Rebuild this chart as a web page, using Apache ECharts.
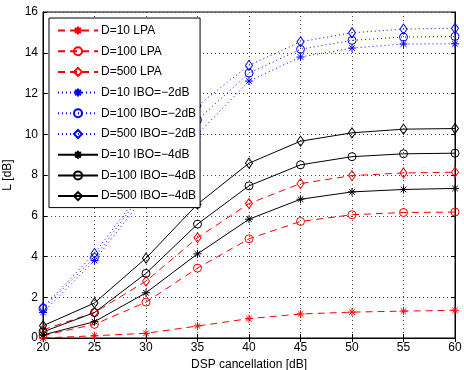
<!DOCTYPE html>
<html>
<head>
<meta charset="utf-8">
<script src="https://cdn.jsdelivr.net/npm/echarts@6/dist/echarts.min.js"></script>
<style>
  html, body { margin: 0; padding: 0; background: #fff; }
  #chart { width: 464px; height: 370px; }
</style>
</head>
<body>
<div id="chart"></div>
<script>
// x values (DSP cancellation, dB)
var dspCancel = [20, 25, 30, 35, 40, 45, 50, 55, 60];

// LPA
var lpaD10 = [0.0, 0.11, 0.23, 0.59, 0.95, 1.18, 1.27, 1.32, 1.36];
var lpaD100 = [0.12, 0.67, 1.76, 3.43, 4.87, 5.72, 6.05, 6.16, 6.18];
var lpaD500 = [0.4, 1.25, 2.79, 4.92, 6.6, 7.58, 7.97, 8.1, 8.14];
// IBO = -2 dB
var ibo2D10 = [1.25, 3.8, 7.04, 10.0, 12.61, 13.79, 14.23, 14.43, 14.44];
var ibo2D100 = [1.45, 3.95, 7.34, 10.7, 13.0, 14.17, 14.61, 14.77, 14.8];
var ibo2D500 = [1.5, 4.15, 7.5, 11.4, 13.38, 14.54, 14.98, 15.16, 15.2];
// IBO = -4 dB
var ibo4D10 = [0.15, 0.8, 2.22, 4.13, 5.83, 6.81, 7.17, 7.29, 7.34];
var ibo4D100 = [0.3, 1.25, 3.17, 5.59, 7.47, 8.5, 8.9, 9.04, 9.07];
var ibo4D500 = [0.6, 1.72, 3.92, 6.57, 8.58, 9.66, 10.07, 10.25, 10.28];

var xTicks = { min: 20, max: 60, interval: 5 };
var yTicks = { min: 0, max: 16, interval: 2 };

var starPath = 'path://M0,-10L0,10M-10,0L10,0M-7,-7L7,7M-7,7L7,-7';

function pair(arr) {
  return arr.map(function (v, i) { return [dspCancel[i], v]; });
}

function mkSeries(name, data, color, dash, symbol, size) {
  return {
    name: name,
    type: 'line',
    data: pair(data),
    symbol: symbol,
    symbolSize: size,
    showSymbol: true,
    animation: false,
    lineStyle: { color: color, width: 1, type: dash },
    itemStyle: { color: 'none', borderColor: color, borderWidth: 1 },
    emphasis: { disabled: true }
  };
}

var dashed = [7, 5];
var dotted = [1, 3];

var chart = echarts.init(document.getElementById('chart'));

var tickFont = { color: '#000', fontSize: 12, fontFamily: 'Liberation Sans, Arial, sans-serif' };

var option = {
  backgroundColor: '#fff',
  animation: false,
  grid: {
    left: 43, right: 9, top: 12, bottom: 32,
    outerBoundsMode: 'none',
    show: true, borderColor: '#000', borderWidth: 1
  },
  legend: {
    orient: 'vertical',
    left: 49,
    top: 18,
    zlevel: 1,
    padding: [6, 4, 5, 8],
    itemWidth: 40,
    itemHeight: 10,
    itemGap: 7.7,
    backgroundColor: '#fff',
    borderColor: '#000',
    borderWidth: 1,
    textStyle: Object.assign({ padding: [0, 0, 0, -2] }, tickFont),
    selectedMode: false
  },
  xAxis: [
    {
      type: 'value',
      min: xTicks.min, max: xTicks.max, interval: xTicks.interval,
      name: 'DSP cancellation [dB]',
      nameLocation: 'middle',
      nameGap: 19,
      nameTextStyle: tickFont,
      axisLine: { lineStyle: { color: '#000', width: 1 } },
      axisTick: { inside: true, length: 4, lineStyle: { color: '#000' } },
      axisLabel: Object.assign({ margin: 4 }, tickFont),
      splitLine: { show: true, lineStyle: { color: '#444', type: dotted, width: 1 } }
    },
    {
      type: 'value', position: 'top',
      min: xTicks.min, max: xTicks.max, interval: xTicks.interval,
      axisLine: { lineStyle: { color: '#000' } },
      axisTick: { inside: true, length: 4, lineStyle: { color: '#000' } },
      axisLabel: { show: false },
      splitLine: { show: false }
    }
  ],
  yAxis: [
    {
      type: 'value',
      min: yTicks.min, max: yTicks.max, interval: yTicks.interval,
      name: 'L [dB]',
      nameLocation: 'middle',
      nameGap: 24,
      nameTextStyle: tickFont,
      axisLine: { lineStyle: { color: '#000', width: 1 } },
      axisTick: { inside: true, length: 4, lineStyle: { color: '#000' } },
      axisLabel: Object.assign({ margin: 5 }, tickFont),
      splitLine: { show: true, lineStyle: { color: '#444', type: dotted, width: 1 } }
    },
    {
      type: 'value', position: 'right',
      min: yTicks.min, max: yTicks.max, interval: yTicks.interval,
      axisLine: { show: true, lineStyle: { color: '#000' } },
      axisTick: { show: true, inside: true, length: 4, lineStyle: { color: '#000' } },
      axisLabel: { show: false },
      splitLine: { show: false }
    }
  ],
  series: [
    mkSeries('D=10 LPA', lpaD10, '#ff0000', dashed, starPath, 8),
    mkSeries('D=100 LPA', lpaD100, '#ff0000', dashed, 'circle', 8),
    mkSeries('D=500 LPA', lpaD500, '#ff0000', dashed, 'diamond', [7, 10]),
    mkSeries('D=10 IBO=\u22122dB', ibo2D10, '#0000ff', dotted, starPath, 8),
    mkSeries('D=100 IBO=\u22122dB', ibo2D100, '#0000ff', dotted, 'circle', 8),
    mkSeries('D=500 IBO=\u22122dB', ibo2D500, '#0000ff', dotted, 'diamond', [7, 10]),
    mkSeries('D=10 IBO=\u22124dB', ibo4D10, '#000000', 'solid', starPath, 8),
    mkSeries('D=100 IBO=\u22124dB', ibo4D100, '#000000', 'solid', 'circle', 8),
    mkSeries('D=500 IBO=\u22124dB', ibo4D500, '#000000', 'solid', 'diamond', [7, 10])
  ]
};

chart.setOption(option);
</script>
</body>
</html>
